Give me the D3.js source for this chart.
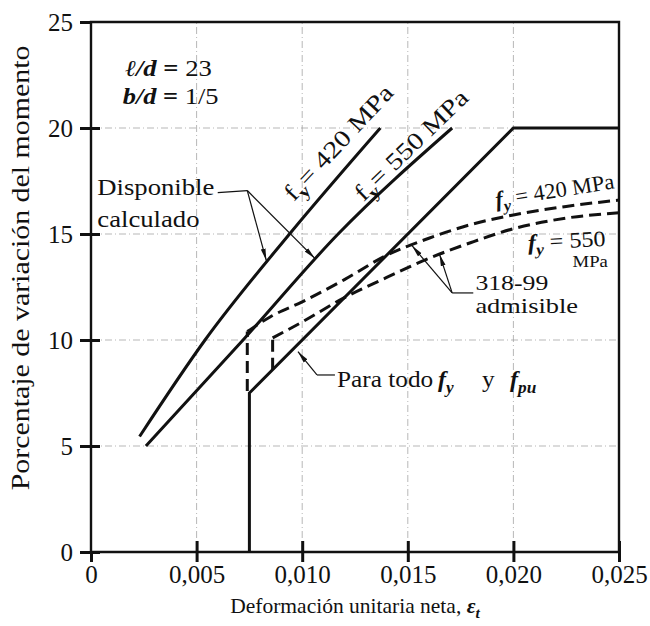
<!DOCTYPE html>
<meta charset="utf-8">
<style>
  body { margin: 0; background: #fff; }
  svg text { font-family: "Liberation Serif", "Times New Roman", serif; fill: #111; }
  .grid line { stroke: #9a9a9a; stroke-width: 0.7; stroke-dasharray: 7,3,1,3; }
  .axis path { display: none; }
  .axis line { stroke: #111; stroke-width: 3; }
  .frame { stroke: #111; stroke-width: 2.4; fill: none; }
  .solid { fill: none; stroke: #111; stroke-width: 3; }
  .dashed { fill: none; stroke: #111; stroke-width: 3; stroke-dasharray: 12,6; }
  .leader { fill: none; stroke: #111; stroke-width: 1.2; }
</style>
<svg width="650" height="626"></svg>
<script src="https://d3js.org/d3.v7.min.js"></script>
<script>

// ticks
var xTicks = [0, 0.005, 0.010, 0.015, 0.020, 0.025];
var xTickLabels = ["0", "0,005", "0,010", "0,015", "0,020", "0,025"];
var yTicks = [0, 5, 10, 15, 20, 25];

// disponible calculado, fy = 420 MPa
var avail420X = [0.0023, 0.0054, 0.0094, 0.0137];
var avail420Y = [5.45, 10.0, 15.0, 20.0];
// disponible calculado, fy = 550 MPa
var avail550X = [0.0026, 0.0072, 0.0117, 0.0171];
var avail550Y = [5.0, 10.0, 15.0, 20.0];
// para todo fy y fpu
var allX = [0.0075, 0.0075, 0.0200, 0.0250];
var allY = [0, 7.5, 20.0, 20.0];
// 318-99 admisible, fy = 420 MPa
var adm420X = [0.0074, 0.0074, 0.0085, 0.010, 0.012, 0.014, 0.016, 0.018, 0.020, 0.0225, 0.025];
var adm420Y = [7.6, 10.4, 11.1, 11.8, 12.85, 14.0, 14.8, 15.45, 15.9, 16.3, 16.6];
// 318-99 admisible, fy = 550 MPa
var adm550X = [0.0086, 0.0086, 0.010, 0.012, 0.014, 0.016, 0.018, 0.020, 0.0225, 0.025];
var adm550Y = [8.6, 10.1, 10.85, 12.0, 12.95, 13.85, 14.6, 15.25, 15.75, 16.0];

var svg = d3.select("svg"),
    width = +svg.attr("width"),
    height = +svg.attr("height");

var margin = {top: 22, right: 31, bottom: 74, left: 91};

var x = d3.scaleLinear().domain([0, 0.025]).range([margin.left, width - margin.right]);
var y = d3.scaleLinear().domain([0, 25]).range([height - margin.bottom, margin.top]);

var defs = svg.append("defs");
defs.append("marker")
    .attr("id", "arrow")
    .attr("viewBox", "0 0 12 6")
    .attr("refX", 12).attr("refY", 3)
    .attr("markerWidth", 12).attr("markerHeight", 6)
    .attr("markerUnits", "userSpaceOnUse")
    .attr("orient", "auto")
  .append("path")
    .attr("d", "M0,0.6 L12,3 L0,5.4 Z")
    .attr("fill", "#111");

// grid
var grid = svg.append("g").attr("class", "grid");
grid.selectAll(".gx")
    .data(xTicks.slice(1, -1))
    .enter().append("line")
    .attr("x1", d => x(d)).attr("x2", d => x(d))
    .attr("y1", y(0)).attr("y2", y(25));
grid.selectAll(".gy")
    .data(yTicks.slice(1, -1))
    .enter().append("line")
    .attr("y1", d => y(d)).attr("y2", d => y(d))
    .attr("x1", x(0)).attr("x2", x(0.025));

// frame
svg.append("path")
    .attr("class", "frame")
    .attr("d", "M" + x(0) + "," + y(0) + "V" + y(25) + "H" + x(0.025) + "V" + y(0) + "Z");

// axes (ticks cross the axis line)
svg.append("g").attr("class", "axis")
    .attr("transform", "translate(" + x(0) + ",0)")
    .call(d3.axisLeft(y).tickValues(yTicks).tickSize(11).tickPadding(7).tickFormat(d3.format("d")));
svg.append("g").attr("class", "axis")
    .attr("transform", "translate(" + x(0) + ",0)")
    .call(d3.axisRight(y).tickValues(yTicks.slice(0, -1)).tickSize(9).tickFormat(""));

svg.append("g").attr("class", "axis")
    .attr("transform", "translate(0," + y(0) + ")")
    .call(d3.axisBottom(x).tickValues(xTicks).tickSize(10).tickPadding(3)
        .tickFormat((d, i) => xTickLabels[i]));
svg.append("g").attr("class", "axis")
    .attr("transform", "translate(0," + y(0) + ")")
    .call(d3.axisTop(x).tickValues(xTicks.slice(1)).tickSize(11).tickFormat(""));

svg.selectAll(".axis text")
    .attr("font-family", null).attr("font-size", null)
    .style("font-size", "25px").attr("fill", "#111");

// curves
var line = d3.line().x(d => x(d[0])).y(d => y(d[1]));
var smooth = d3.line().x(d => x(d[0])).y(d => y(d[1])).curve(d3.curveMonotoneX);

svg.append("path").attr("class", "solid").attr("d", smooth(d3.zip(avail420X, avail420Y)));
svg.append("path").attr("class", "solid").attr("d", smooth(d3.zip(avail550X, avail550Y)));
svg.append("path").attr("class", "solid").attr("d", line(d3.zip(allX, allY)));

[[adm420X, adm420Y], [adm550X, adm550Y]].forEach(function (s) {
  var pts = d3.zip(s[0], s[1]);
  svg.append("path").attr("class", "dashed").attr("d", line(pts.slice(0, 2)));
  svg.append("path").attr("class", "dashed").attr("d", smooth(pts.slice(1)));
});

// rich text helper: parts = [[string, style]]; style "bi" bold italic, "b" bold, "i" italic, "sub" subscript
// the printed type is wider than Liberation Serif, hence the horizontal stretch sx
function label(px, py, size, parts, angle, sx, anchor) {
  var t = svg.append("text")
      .attr("transform", "translate(" + px + "," + py + ")" +
            (angle ? " rotate(" + angle + ")" : "") +
            " scale(" + (sx || 1) + ",1)")
      .attr("text-anchor", anchor || "start")
      .style("font-size", size + "px");
  var shifted = false;
  parts.forEach(function (p) {
    var s = t.append("tspan").text(p[0]);
    var st = p[1] || "";
    if (st.indexOf("b") >= 0) s.style("font-weight", "bold");
    if (st.indexOf("i") >= 0) s.style("font-style", "italic");
    if (st.indexOf("sub") >= 0) {
      s.style("font-size", (size * 0.72) + "px").attr("dy", size * 0.25);
      shifted = true;
    } else if (shifted) {
      s.attr("dy", -size * 0.25);
      shifted = false;
    }
  });
  return t;
}

function leader(pts, arrow) {
  var p = svg.append("path").attr("class", "leader").attr("d", line(pts));
  if (arrow) p.attr("marker-end", "url(#arrow)");
}

// axis titles
label(x(0.0125), 613, 21.5, [["Deformación unitaria neta, "], ["ε", "bi"], ["t", "bisub"]], 0, 1, "middle");
label(29, y(13.4), 26, [["Porcentaje de variación del momento"]], -90, 1.15, "middle");

// parameters
label(x(0.0016), y(22.45), 23, [["ℓ", "i"], ["/d", "bi"], [" = ", "b"], ["23"]], 0, 1.16);
label(x(0.0015), y(21.15), 23, [["b/d", "bi"], [" = ", "b"], ["1/5"]], 0, 1.15);

// disponible calculado
label(x(0.0003), y(16.85), 23, [["Disponible"]], 0, 1.16);
label(x(0.0003), y(15.33), 23, [["calculado"]], 0, 1.16);
leader([[0.0060, 16.95], [0.0074, 17.05]]);
leader([[0.0074, 17.05], [0.0083, 13.75]], true);
leader([[0.0074, 17.05], [0.0106, 13.85]], true);

// labels along available lines
label(x(0.0096), y(16.5), 24, [["f"], ["y", "sub"], ["= 420 MPa"]], -47, 1.2);
label(x(0.0129), y(16.5), 24, [["f"], ["y", "sub"], ["= 550 MPa"]], -44, 1.2);

// labels for the 318-99 curves
label(x(0.0192), y(16.27), 22, [["f", "bi"], ["y", "bisub"], [" = 420 MPa"]], -9, 1.02);
label(x(0.0207), y(14.25), 22, [["f", "bi"], ["y", "bisub"], [" = 550"]], -3, 1.1);
label(x(0.0228), y(13.44), 17, [["MPa"]], 0, 1.1);

label(x(0.0182), y(12.36), 22, [["318-99"]], 0, 1.17);
label(x(0.0182), y(11.27), 22, [["admisible"]], 0, 1.2);
leader([[0.0181, 12.22], [0.0171, 12.22]]);
leader([[0.0171, 12.22], [0.0152, 14.45]], true);
leader([[0.0171, 12.22], [0.0165, 14.05]], true);

// para todo fy y fpu
label(x(0.01165), y(7.78), 23, [["Para todo"]], 0, 1.1);
label(x(0.01643), y(7.78), 24, [["f", "bi"], ["y", "bisub"]]);
label(x(0.01851), y(7.78), 23, [["y"]], 0, 1.1);
label(x(0.01984), y(7.78), 24, [["f", "bi"], ["pu", "bisub"]]);
leader([[0.01155, 8.35], [0.0107, 8.35]]);
leader([[0.0107, 8.35], [0.0098, 9.45]], true);

</script>
